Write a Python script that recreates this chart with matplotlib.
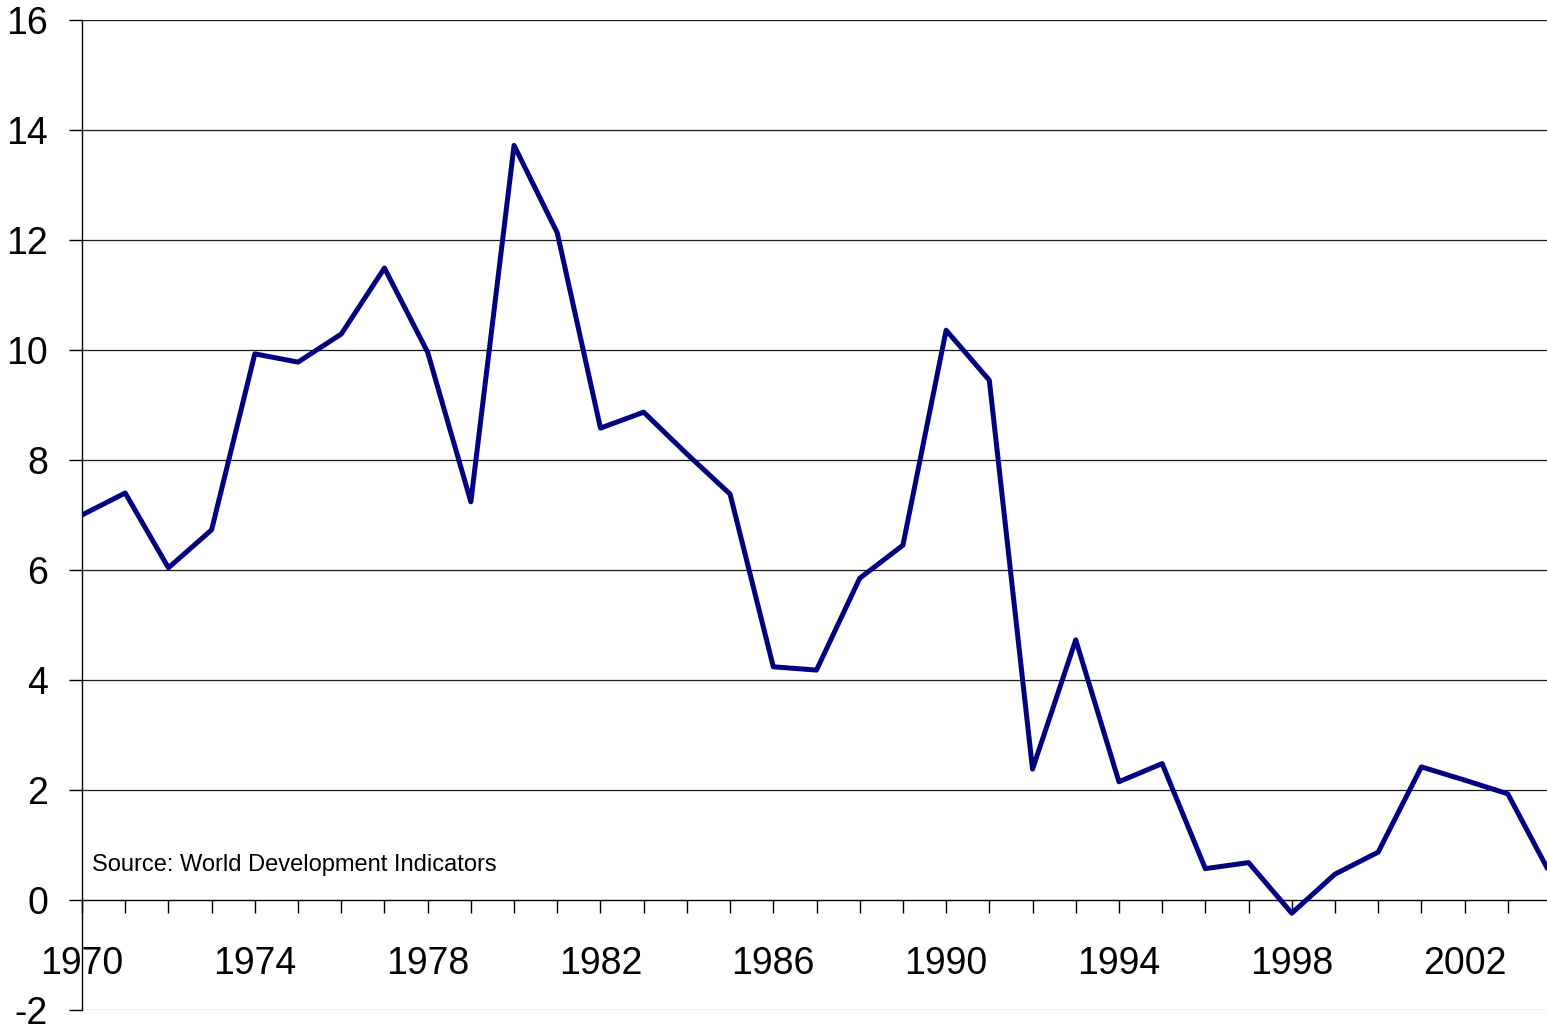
import matplotlib
matplotlib.use("Agg")
import matplotlib.pyplot as plt
from matplotlib.ticker import FixedLocator

years = list(range(1970, 2005))
values = [7.00, 7.40, 6.04, 6.73, 9.93, 9.78, 10.29, 11.49, 9.96, 7.24,
          13.72, 12.13, 8.58, 8.87, 8.11, 7.38, 4.24, 4.18, 5.85, 6.45,
          10.36, 9.45, 2.38, 4.73, 2.15, 2.48, 0.57, 0.68, -0.24, 0.47,
          0.87, 2.42, 2.18, 1.93, 0.45]
y_ticks = [-2, 0, 2, 4, 6, 8, 10, 12, 14, 16]
x_label_years = [1970, 1974, 1978, 1982, 1986, 1990, 1994, 1998, 2002]
source_text = "Source: World Development Indicators"

plt.rcParams['font.family'] = ['Liberation Sans', 'DejaVu Sans']

W, H = 1547, 1030
fig = plt.figure(figsize=(W / 100, H / 100), dpi=100)
left, right, top, bottom = 82, 1551, 20, 1010
ax = fig.add_axes([left / W, 1 - bottom / H, (right - left) / W, (bottom - top) / H])
ax.set_xlim(1970, 2004)
ax.set_ylim(-2, 16)

for v in y_ticks:
    if v == 0:
        continue
    c = '#999999' if v == -2 else '#1a1a1a'
    ax.axhline(v, color=c, linewidth=0.9, zorder=1)

ax.plot(years, values, color='#000080', linewidth=3.6, zorder=3,
        solid_joinstyle='round', solid_capstyle='butt')

for s in ['top', 'right']:
    ax.spines[s].set_visible(False)
ax.spines['left'].set_color('black')
ax.spines['left'].set_linewidth(1.0)
ax.spines['bottom'].set_position(('data', 0))
ax.spines['bottom'].set_color('black')
ax.spines['bottom'].set_linewidth(1.0)

ax.yaxis.set_major_locator(FixedLocator(y_ticks))
ax.set_yticklabels([str(v) for v in y_ticks])
ax.tick_params(axis='y', direction='out', length=9.4, width=1.0, color='black',
               pad=15, labelsize=27)

ax.set_xticks(years)
ax.set_xticklabels([str(y) if y in x_label_years else '' for y in years])
ax.xaxis.set_ticks_position('bottom')
ax.tick_params(axis='x', direction='out', length=9.4, width=1.0, color='black',
               pad=24, labelsize=27)

ax.text(1970.24, 0.64, source_text, fontsize=17, ha='left', va='center', zorder=4)

fig.savefig("out.png", dpi=100)
